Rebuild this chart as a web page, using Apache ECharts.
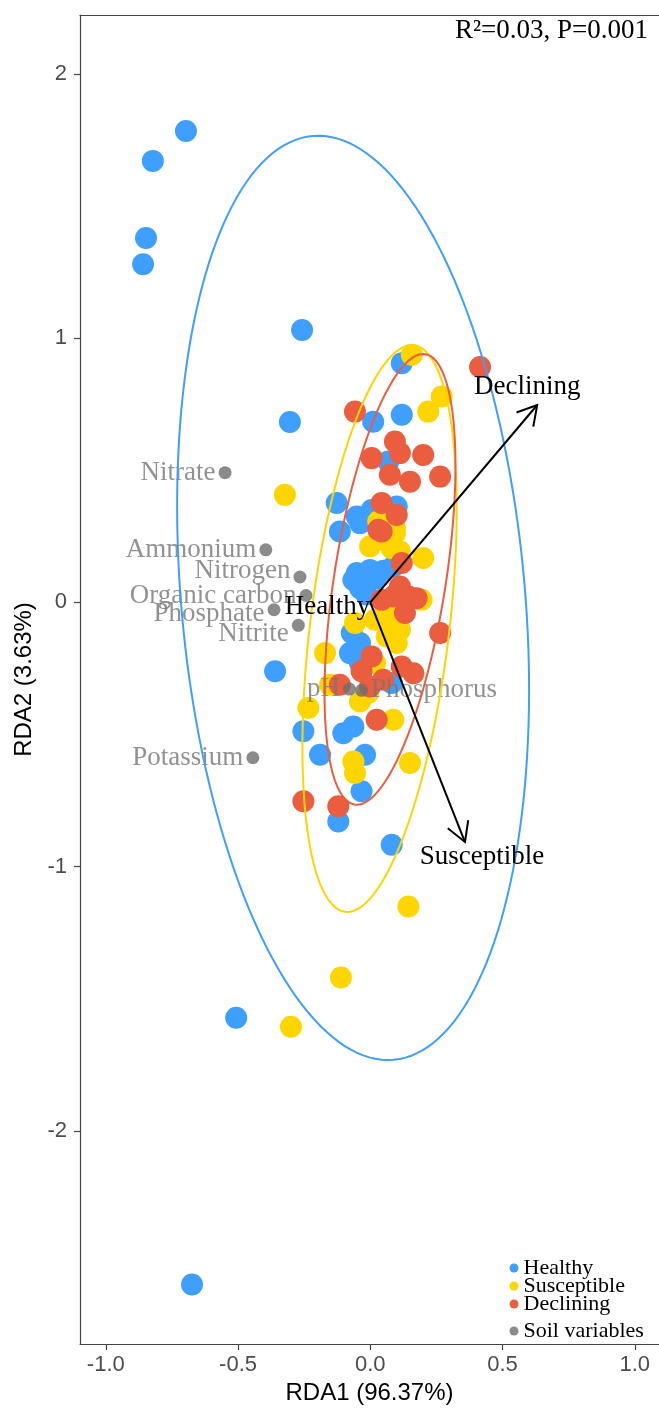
<!DOCTYPE html>
<html>
<head>
<meta charset="utf-8">
<script src="https://cdn.jsdelivr.net/npm/echarts@6/dist/echarts.min.js"></script>
<style>
  html, body { margin: 0; padding: 0; background: #ffffff; }
  #chart { width: 659px; height: 1410px; }
</style>
</head>
<body>
<div id="chart"></div>
<script>
// RDA site scores (RDA1, RDA2) per plant health group
const healthyPoints = [
  [-0.697, 1.784], [-0.822, 1.671], [-0.848, 1.379], [-0.859, 1.280], [-0.258, 1.031], [-0.304, 0.683],
  [0.119, 0.905], [0.011, 0.684], [0.119, 0.710], [0.068, 0.533], [-0.127, 0.376], [-0.115, 0.268],
  [-0.051, 0.325], [0.100, 0.363], [0.005, 0.350], [-0.039, 0.300], [-0.051, 0.111], [-0.001, 0.123],
  [-0.039, 0.054], [-0.064, 0.085], [0.087, 0.136], [0.125, -0.022], [0.020, 0.090], [-0.015, 0.030],
  [0.050, 0.120], [-0.070, -0.116], [-0.077, -0.192], [-0.039, -0.154], [-0.039, -0.230], [-0.360, -0.261],
  [0.081, -0.305], [-0.253, -0.488], [-0.064, -0.470], [-0.102, -0.495], [-0.190, -0.577], [-0.020, -0.577],
  [-0.033, -0.715], [-0.121, -0.829], [0.081, -0.917], [-0.507, -1.572], [-0.674, -2.582]
];
const susceptiblePoints = [
  [0.157, 0.937], [0.219, 0.722], [0.270, 0.779], [-0.323, 0.407], [0.030, 0.306], [0.093, 0.281],
  [-0.001, 0.212], [0.093, 0.262], [0.049, 0.237], [0.200, 0.168], [0.081, 0.205], [0.112, 0.193],
  [0.194, 0.010], [0.062, -0.016], [0.087, -0.066], [0.112, -0.104], [0.018, -0.066], [-0.058, -0.078],
  [0.062, -0.129], [0.100, -0.154], [-0.171, -0.192], [0.018, -0.230], [-0.152, -0.312], [-0.039, -0.375],
  [-0.008, -0.343], [-0.234, -0.400], [0.087, -0.444], [-0.064, -0.602], [-0.058, -0.646], [0.150, -0.608],
  [0.144, -1.151], [-0.111, -1.420], [-0.300, -1.606]
];
const decliningPoints = [
  [0.415, 0.891], [-0.058, 0.722], [0.093, 0.609], [0.112, 0.565], [0.005, 0.546], [0.200, 0.558],
  [0.264, 0.476], [0.074, 0.483], [0.150, 0.457], [0.043, 0.376], [0.100, 0.331], [0.043, 0.268],
  [0.030, 0.275], [0.119, 0.149], [0.112, 0.060], [0.087, 0.022], [0.144, 0.022], [0.175, 0.016],
  [0.043, 0.010], [0.131, -0.040], [0.264, -0.116], [0.005, -0.205], [0.119, -0.243], [0.163, -0.268],
  [-0.033, -0.261], [-0.115, -0.312], [0.024, -0.444], [0.049, -0.293], [-0.001, -0.318],
  [-0.253, -0.753], [-0.121, -0.772]
];

// Soil variable scores
const soilNames = ['Nitrate', 'Ammonium', 'Nitrogen', 'Organic carbon', 'Phosphate', 'Nitrite', 'pH', 'Phosphorus', 'Potassium'];
const soilX = [-0.549, -0.395, -0.266, -0.243, -0.364, -0.272, -0.079, -0.033, -0.444];
const soilY = [0.491, 0.199, 0.096, 0.026, -0.028, -0.087, -0.328, -0.333, -0.588];

// Group confidence ellipses: centre, semi-axes (major, minor), tilt of major axis from vertical (deg)
const groupNames = ['Healthy', 'Susceptible', 'Declining'];
const ellipseCentres = [[-0.065, 0.017], [0.035, -0.099], [0.0745, 0.087]];
const ellipseSemiAxes = [[1.755, 0.650], [1.080, 0.263], [0.8625, 0.211]];
const ellipseTilts = [-5.0, 6.9, 8.9];

// Group centroid vectors
const vectorNames = ['Healthy', 'Declining', 'Susceptible'];
const vectorEnds = [[0.0, 0.0], [0.631, 0.747], [0.358, -0.907]];

// Axis ticks
const xTicks = [-1.0, -0.5, 0.0, 0.5, 1.0];
const yTicks = [-2, -1, 0, 1, 2];

const statText = 'R\u00B2=0.03, P=0.001';

const groupColors = { Healthy: '#3F9FFF', Susceptible: '#FFD500', Declining: '#EA5D3F' };
const soilColor = '#6E6E6E';
const soilLabelColor = '#777777';
const frameColor = '#444444';
const serif = '"Liberation Serif", "Times New Roman", serif';
const sans = '"Liberation Sans", Arial, sans-serif';

// label placement for soil variables
const soilLabelStyle = {
  Nitrogen: { offset: [0, -6] },
  Phosphate: { offset: [0, 4] },
  Nitrite: { offset: [0, 9] },
  Phosphorus: { position: 'right', offset: [0, 0] }
};

// vector label placement relative to arrow tip (pixels)
const vectorLabelStyle = {
  Healthy: { dx: 0, dy: 5, align: 'right' },
  Declining: { dx: -10, dy: -18, align: 'center' },
  Susceptible: { dx: 17, dy: 15, align: 'center' }
};

const chart = echarts.init(document.getElementById('chart'), null, { renderer: 'canvas' });

function renderEllipse(params, api) {
  const cx = api.value(0), cy = api.value(1), a = api.value(2), b = api.value(3);
  const t = api.value(4) * Math.PI / 180;
  const ux = Math.sin(t), uy = Math.cos(t);   // major axis direction
  const vx = Math.cos(t), vy = -Math.sin(t);  // minor axis direction
  const pts = [];
  const n = 180;
  for (let i = 0; i < n; i++) {
    const s = 2 * Math.PI * i / n;
    const p = a * Math.cos(s), q = b * Math.sin(s);
    pts.push(api.coord([cx + p * ux + q * vx, cy + p * uy + q * vy]));
  }
  return {
    type: 'polygon',
    shape: { points: pts },
    style: { fill: null, stroke: groupColors[groupNames[params.dataIndex]], lineWidth: 2 }
  };
}

function renderVector(params, api) {
  const name = vectorNames[params.dataIndex];
  const p0 = api.coord([0, 0]);
  const p1 = api.coord([api.value(0), api.value(1)]);
  const children = [];
  const len = Math.hypot(p1[0] - p0[0], p1[1] - p0[1]);
  if (len > 2) {
    const ang = Math.atan2(p1[1] - p0[1], p1[0] - p0[0]);
    const L = 22, spread = Math.PI / 6;
    const b1 = [p1[0] - L * Math.cos(ang - spread), p1[1] - L * Math.sin(ang - spread)];
    const b2 = [p1[0] - L * Math.cos(ang + spread), p1[1] - L * Math.sin(ang + spread)];
    children.push({ type: 'line', shape: { x1: p0[0], y1: p0[1], x2: p1[0], y2: p1[1] },
      style: { stroke: '#000', lineWidth: 2 } });
    children.push({ type: 'polyline', shape: { points: [b1, p1, b2] },
      style: { stroke: '#000', lineWidth: 2, fill: null } });
  }
  const ls = vectorLabelStyle[name];
  children.push({
    type: 'text', x: p1[0] + ls.dx, y: p1[1] + ls.dy,
    style: { text: name, fill: '#000', fontSize: 27, fontFamily: serif, align: ls.align, verticalAlign: 'middle' }
  });
  return { type: 'group', children };
}

const scatterSeries = groupNames.map(function (g, i) {
  const pts = [healthyPoints, susceptiblePoints, decliningPoints][i];
  return {
    name: g, type: 'scatter', symbol: 'circle', symbolSize: 22,
    itemStyle: { color: groupColors[g], opacity: 1 },
    data: pts, z: 2, silent: true
  };
});

const legendText = { fontFamily: serif, fontSize: 22, color: '#000' };
const X_MIN = -1.0975, X_MAX = 1.0915;

const option = {
  animation: false,
  backgroundColor: '#ffffff',
  grid: { left: 80, top: 15, right: 0, bottom: 65.5, show: false },
  xAxis: [
    {
      type: 'value', min: X_MIN, max: X_MAX,
      name: 'RDA1 (96.37%)', nameLocation: 'middle', nameGap: 37,
      nameTextStyle: { fontFamily: sans, fontSize: 24, color: '#000' },
      axisLine: { show: true, onZero: false, lineStyle: { color: frameColor, width: 1.2 } },
      axisTick: { show: true, length: 6, lineStyle: { color: frameColor, width: 1.2 }, customValues: xTicks },
      axisLabel: { fontFamily: sans, fontSize: 22, color: '#4D4D4D', margin: 10, customValues: xTicks,
        formatter: function (v) { return v.toFixed(1); } },
      splitLine: { show: false }
    },
    {
      // top frame line
      type: 'value', position: 'top', min: X_MIN, max: X_MAX,
      axisLine: { show: true, onZero: false, lineStyle: { color: frameColor, width: 1.2 } },
      axisTick: { show: false }, axisLabel: { show: false }, splitLine: { show: false }
    }
  ],
  yAxis: {
    type: 'value', min: -2.807, max: 2.2232,
    name: 'RDA2 (3.63%)', nameLocation: 'middle', nameGap: 43,
    nameTextStyle: { fontFamily: sans, fontSize: 24, color: '#000' },
    axisLine: { show: true, onZero: false, lineStyle: { color: frameColor, width: 1.2 } },
    axisTick: { show: true, length: 6, lineStyle: { color: frameColor, width: 1.2 }, customValues: yTicks },
    axisLabel: { fontFamily: sans, fontSize: 22, color: '#4D4D4D', margin: 13, customValues: yTicks,
      formatter: function (v) { return String(v); } },
    splitLine: { show: false }
  },
  legend: [
    {
      data: groupNames.map(function (g) { return { name: g, icon: 'circle' }; }),
      orient: 'vertical', left: 509.5, top: 1257, padding: 0, itemGap: -4,
      itemWidth: 9, itemHeight: 9,
      textStyle: legendText,
      selectedMode: false
    },
    {
      data: [{ name: 'Soil variables', icon: 'circle' }],
      orient: 'vertical', left: 509.5, top: 1320, padding: 0,
      itemWidth: 9, itemHeight: 9,
      textStyle: legendText,
      selectedMode: false
    }
  ],
  graphic: [
    { type: 'text', right: 11, top: 17,
      style: { text: statText, fill: '#000', fontSize: 27, fontFamily: serif } }
  ],
  series: scatterSeries.concat([
    {
      name: 'Soil variables', type: 'scatter', symbol: 'circle', symbolSize: 13,
      itemStyle: { color: soilColor }, z: 3, silent: true,
      data: soilNames.map(function (n, i) {
        const st = soilLabelStyle[n] || {};
        return {
          name: n, value: [soilX[i], soilY[i]],
          label: { show: true, position: st.position || 'left', distance: 3, offset: st.offset || [0, 0],
            formatter: '{b}', fontFamily: serif, fontSize: 27, color: soilLabelColor }
        };
      })
    },
    {
      name: 'ellipses', type: 'custom', renderItem: renderEllipse, z: 4, silent: true,
      encode: { x: 0, y: 1 },
      data: groupNames.map(function (g, i) {
        return [ellipseCentres[i][0], ellipseCentres[i][1], ellipseSemiAxes[i][0], ellipseSemiAxes[i][1], ellipseTilts[i]];
      })
    },
    {
      name: 'vectors', type: 'custom', renderItem: renderVector, z: 5, silent: true,
      encode: { x: 0, y: 1 },
      data: vectorEnds.map(function (e) { return [e[0], e[1]]; })
    }
  ])
};

chart.setOption(option);
</script>
</body>
</html>
